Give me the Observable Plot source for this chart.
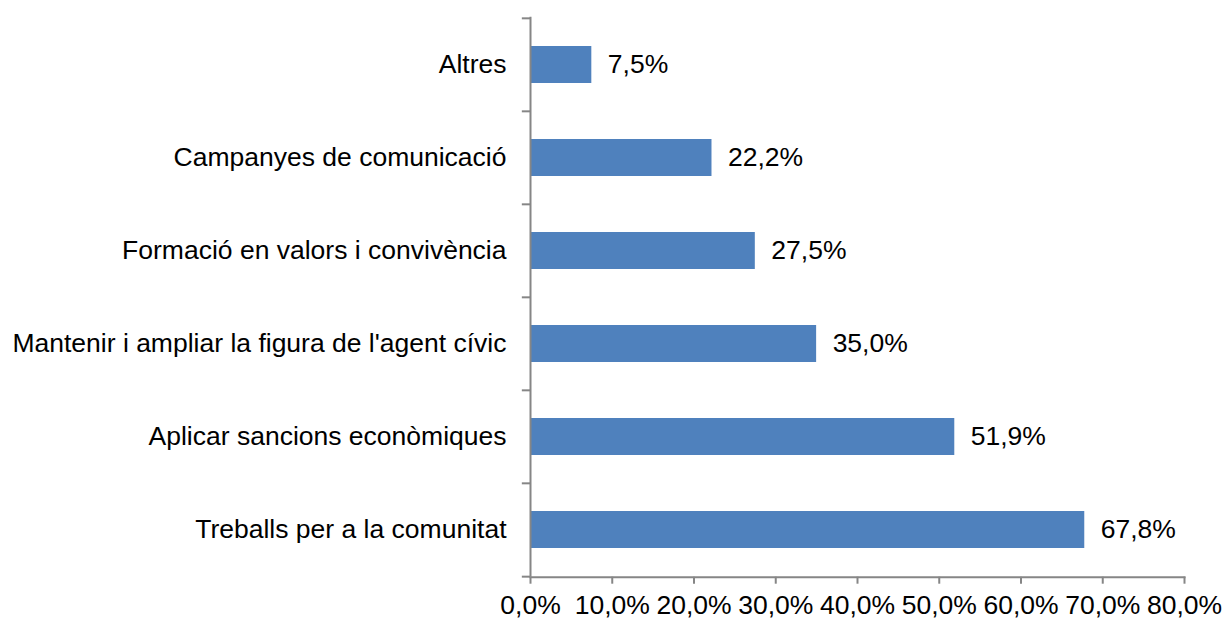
<!DOCTYPE html>
<html><head><meta charset="utf-8">
<script src="https://cdn.jsdelivr.net/npm/d3@7"></script>
<script src="https://cdn.jsdelivr.net/npm/@observablehq/plot@0.6"></script>
<style>body{margin:0;background:#fff;} svg{display:block;}</style>
</head><body><div id="chart"></div>
<script>
const categories = ["Altres","Campanyes de comunicació","Formació en valors i convivència","Mantenir i ampliar la figura de l'agent cívic","Aplicar sancions econòmiques","Treballs per a la comunitat"];
const values = [7.5, 22.2, 27.5, 35.0, 51.9, 67.8];
const xTicks = [0,10,20,30,40,50,60,70,80];
const data = categories.map((c,i)=>({category:c, value:values[i]}));
const fmt = v => v.toFixed(1).replace(".", ",") + "%";
const W = 1224, H = 621, mt = 16.7, mb = 44.3;
const step = (H - mt - mb) / categories.length;
const axisColor = "#868686";
const fs = 26.5;
const chart = Plot.plot({
  width: W, height: H,
  marginLeft: 530, marginRight: 40, marginTop: mt, marginBottom: mb,
  style: {fontFamily: "Liberation Sans, Arial, sans-serif", fontSize: fs + "px", color: "#000", background: "#fff", overflow: "visible"},
  x: {domain: [0, 80], ticks: xTicks},
  y: {domain: categories, padding: 0.6, paddingOuter: 0.3},
  marks: [
    Plot.barX(data, {x: "value", y: "category", fill: "#4F81BD"}),
    Plot.text(data, {x: "value", y: "category", text: d => fmt(d.value), dx: 16, textAnchor: "start", fontSize: fs, fill: "#000"}),
    Plot.ruleX([0], {stroke: axisColor, strokeWidth: 2}),
    Plot.frame({anchor: "bottom", stroke: axisColor, strokeWidth: 2}),
    Plot.ruleY(categories, {y: d => d, x1: -1, x2: 0, dy: -step/2, stroke: axisColor, strokeWidth: 2}),
    Plot.ruleY([categories[categories.length-1]], {y: d => d, x1: -1, x2: 0, dy: step/2, stroke: axisColor, strokeWidth: 2}),
    Plot.axisX({ticks: xTicks, tickSize: 7, tickPadding: 11, tickFormat: fmt, stroke: axisColor, strokeWidth: 2, fill: "#000", fontSize: fs, label: null}),
    Plot.axisY({tickSize: 0, tickPadding: 24, fill: "#000", fontSize: fs, label: null})
  ]
});
document.getElementById("chart").appendChild(chart);
</script></body></html>
